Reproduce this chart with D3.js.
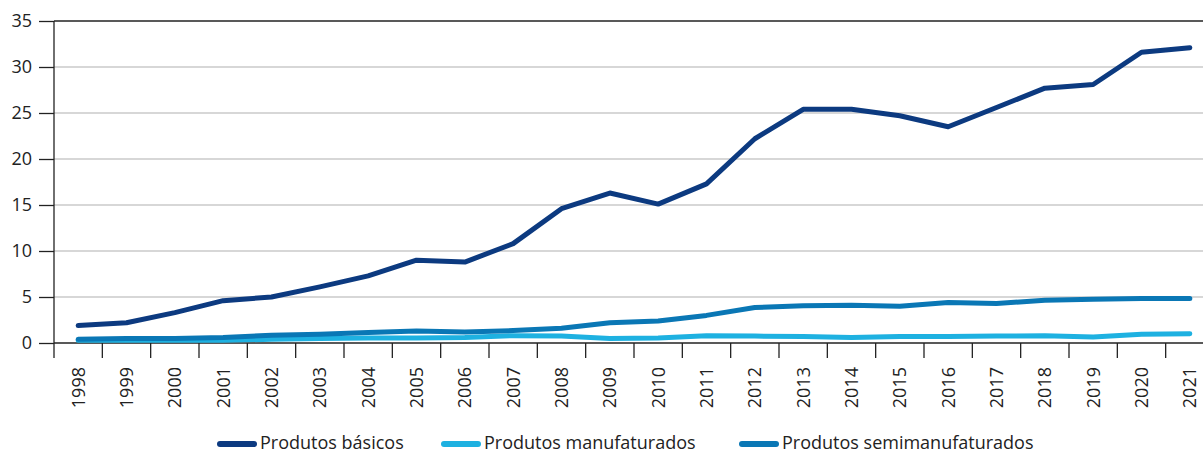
<!DOCTYPE html>
<html>
<head>
<meta charset="utf-8">
<script src="https://cdn.jsdelivr.net/npm/d3@7"></script>
<style>
  body { margin: 0; background: #fff; }
  svg { display: block; font-family: "Open Sans", sans-serif; }
</style>
</head>
<body>
<svg id="chart" width="1203" height="453"></svg>
<script>
var years = ["1998","1999","2000","2001","2002","2003","2004","2005","2006","2007","2008","2009",
             "2010","2011","2012","2013","2014","2015","2016","2017","2018","2019","2020","2021"]

var basicos = [1.9, 2.2, 3.3, 4.6, 5.0, 6.1, 7.3, 9.0, 8.8, 10.8, 14.6, 16.3,
               15.1, 17.3, 22.2, 25.4, 25.4, 24.7, 23.5, 25.6, 27.7, 28.1, 31.6, 32.1]
var manufaturados = [0.3, 0.3, 0.3, 0.3, 0.4, 0.5, 0.55, 0.55, 0.6, 0.8, 0.75, 0.5,
                     0.55, 0.8, 0.75, 0.7, 0.6, 0.7, 0.7, 0.75, 0.8, 0.65, 0.95, 1.0]
var semimanufaturados = [0.4, 0.5, 0.5, 0.6, 0.85, 0.95, 1.15, 1.3, 1.2, 1.35, 1.6, 2.2,
                         2.4, 3.0, 3.85, 4.05, 4.1, 4.0, 4.4, 4.3, 4.65, 4.75, 4.85, 4.85]

var yTicks = [0, 5, 10, 15, 20, 25, 30, 35]

var seriesNames = ["Produtos básicos", "Produtos manufaturados", "Produtos semimanufaturados"]
var seriesColors = ["#0c3a80", "#1eb1e1", "#0a77b5"]

var svg = d3.select("#chart")

var x = d3.scaleBand()
    .domain(years)
    .range([54, 1214])

var y = d3.scaleLinear()
    .domain([0, 35])
    .range([343, 21])

// gridlines
svg.append("g")
  .selectAll("line")
  .data(yTicks.filter(function(d) { return d > 0 && d < 35 }))
  .enter().append("line")
    .attr("x1", 54).attr("x2", 1214)
    .attr("y1", function(d) { return y(d) }).attr("y2", function(d) { return y(d) })
    .attr("stroke", "#cacaca").attr("stroke-width", 1.3)

// top border
svg.append("line")
    .attr("x1", 54).attr("x2", 1214)
    .attr("y1", y(35)).attr("y2", y(35))
    .attr("stroke", "#222").attr("stroke-width", 1.3)

// y axis
var yAxis = svg.append("g")
    .attr("transform", "translate(54,0)")
    .call(d3.axisLeft(y).tickValues(yTicks).tickSize(15).tickPadding(7))
yAxis.select(".domain").remove()
yAxis.append("line").attr("x1", 0).attr("x2", 0).attr("y1", y(35)).attr("y2", 358)
    .attr("stroke", "#222").attr("stroke-width", 1.3)
yAxis.selectAll(".tick line").attr("stroke", "#222").attr("stroke-width", 1.3)
yAxis.selectAll(".tick text")
    .attr("font-size", 18).attr("fill", "#222")
    .attr("font-family", "Open Sans, sans-serif")

// x axis baseline
svg.append("line")
    .attr("x1", 54).attr("x2", 1214)
    .attr("y1", y(0)).attr("y2", y(0))
    .attr("stroke", "#222").attr("stroke-width", 1.3)

// x ticks at band edges
var edges = years.map(function(d) { return x(d) }).concat([x(years[years.length - 1]) + x.bandwidth()])
svg.append("g")
  .selectAll("line")
  .data(edges.slice(1))
  .enter().append("line")
    .attr("x1", function(d) { return d }).attr("x2", function(d) { return d })
    .attr("y1", y(0)).attr("y2", 358)
    .attr("stroke", "#222").attr("stroke-width", 1.3)

// x labels rotated
svg.append("g")
  .selectAll("text")
  .data(years)
  .enter().append("text")
    .attr("transform", function(d) {
      return "translate(" + (x(d) + x.bandwidth() / 2 + 6.5) + ",367) rotate(-90)"
    })
    .attr("text-anchor", "end")
    .attr("font-size", 18)
    .attr("fill", "#222")
    .text(function(d) { return d })

// lines
var line = d3.line()
    .x(function(d, i) { return x(years[i]) + x.bandwidth() / 2 })
    .y(function(d) { return y(d) })

var drawOrder = [
  { data: manufaturados, color: seriesColors[1] },
  { data: semimanufaturados, color: seriesColors[2] },
  { data: basicos, color: seriesColors[0] }
]
drawOrder.forEach(function(s) {
  svg.append("path")
      .datum(s.data)
      .attr("d", line)
      .attr("fill", "none")
      .attr("stroke", s.color)
      .attr("stroke-width", 5)
      .attr("stroke-linecap", "round")
      .attr("stroke-linejoin", "round")
})

// legend
var legendX = [220, 444, 742]
var legend = svg.append("g")
  .selectAll("g")
  .data(seriesNames)
  .enter().append("g")
    .attr("transform", function(d, i) { return "translate(" + legendX[i] + ",444)" })
legend.append("line")
    .attr("x1", 0).attr("x2", 34)
    .attr("stroke", function(d, i) { return seriesColors[i] })
    .attr("stroke-width", 6)
    .attr("stroke-linecap", "round")
legend.append("text")
    .attr("x", 40).attr("y", 5)
    .attr("font-size", 18)
    .attr("fill", "#222")
    .text(function(d) { return d })
</script>
</body>
</html>
